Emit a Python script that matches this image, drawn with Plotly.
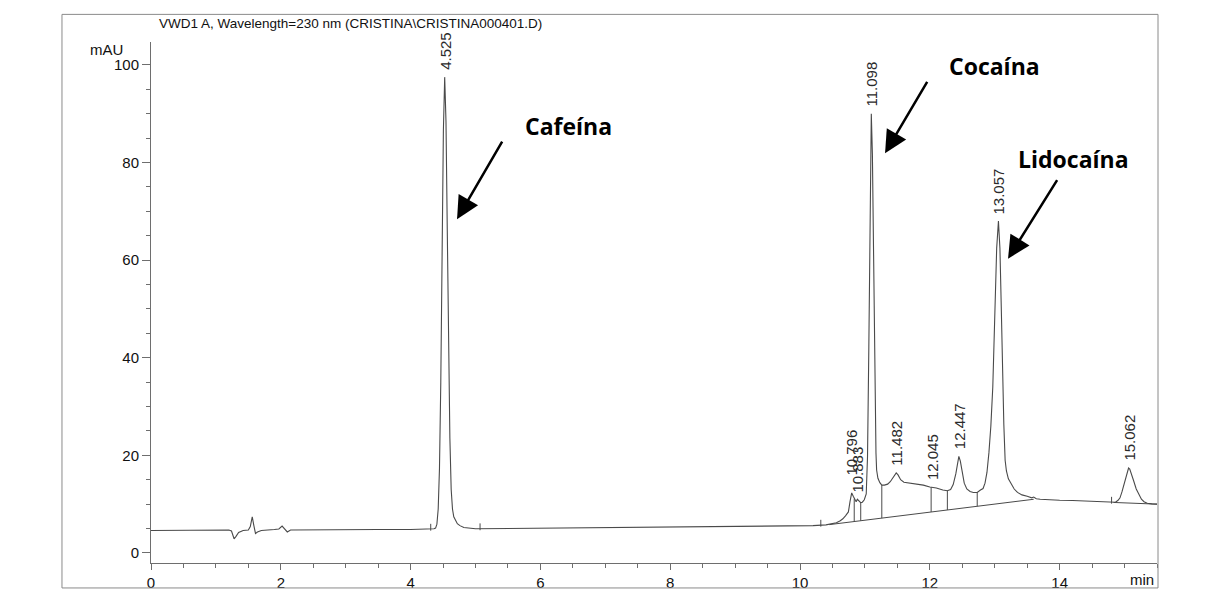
import numpy as np
import plotly.graph_objects as go

# ---------------- data ----------------
time_min = [
    0.00, 0.50, 1.00, 1.20, 1.24, 1.28, 1.31, 1.35, 1.42, 1.50, 1.53, 1.56, 1.585, 1.61, 1.64, 1.70,
    1.90, 1.97, 2.02, 2.06, 2.10, 2.15, 2.50, 3.00, 3.50, 4.00, 4.30, 4.36,
    4.385, 4.405, 4.425, 4.445, 4.465, 4.485, 4.505, 4.525, 4.545, 4.565, 4.585, 4.605, 4.625,
    4.645, 4.665, 4.69, 4.72, 4.76, 4.82, 5.00, 5.50, 6.00, 7.00, 8.00, 9.00, 9.80, 10.20,
    10.40, 10.50, 10.56, 10.62, 10.66, 10.70, 10.745, 10.77, 10.796, 10.82, 10.85, 10.865,
    10.883, 10.90, 10.935, 10.96, 10.99, 11.02, 11.04, 11.06, 11.08, 11.098, 11.115, 11.13,
    11.15, 11.16, 11.17, 11.18, 11.20, 11.23, 11.26, 11.30, 11.35, 11.39, 11.43, 11.46, 11.482,
    11.51, 11.55, 11.60, 11.70, 11.80, 11.90, 12.00, 12.045, 12.10, 12.20, 12.27, 12.32, 12.36,
    12.40, 12.425, 12.447, 12.47, 12.50, 12.53, 12.57, 12.62, 12.67, 12.73, 12.78, 12.82, 12.85,
    12.88, 12.91, 12.94, 12.97, 13.00, 13.03, 13.057, 13.08, 13.10, 13.12, 13.14, 13.16, 13.18,
    13.21, 13.25, 13.30, 13.35, 13.42, 13.50, 13.57, 13.60, 13.64, 13.70, 13.80, 14.00, 14.20,
    14.40, 14.60, 14.80, 14.86, 14.90, 14.93, 14.96, 14.99, 15.02, 15.045, 15.062, 15.08, 15.11,
    15.14, 15.18, 15.22, 15.26, 15.30, 15.35, 15.42, 15.50,
]
signal_mau = [
    4.6, 4.6, 4.65, 4.7, 4.5, 2.9, 3.4, 4.2, 4.6, 4.7, 5.4, 7.4, 5.6, 4.0, 4.3, 4.6,
    4.8, 4.9, 5.5, 5.0, 4.3, 4.7, 4.75, 4.75, 4.8, 4.8, 4.85, 4.95,
    5.1, 5.9, 9.0, 17.4, 35.0, 61.1, 86.6, 97.5, 88.4, 66.1, 41.5, 23.5, 13.0,
    9.0, 7.4, 6.6, 6.0, 5.6, 5.2, 4.95, 5.0, 5.05, 5.15, 5.3, 5.4, 5.5, 5.6,
    5.75, 6.0, 6.2, 6.6, 7.0, 7.6, 8.4, 10.5, 12.3, 11.6, 10.6, 10.5,
    11.0, 10.8, 10.3, 10.4, 10.9, 12.1, 19.8, 42.1, 75.1, 90.0, 81.7, 64.1,
    38.6, 28.5, 20.5, 17.0, 15.3, 14.4, 13.9, 13.9, 14.1, 14.6, 15.4, 16.1, 16.4,
    16.0, 15.0, 14.5, 14.3, 14.1, 13.9, 13.5, 13.45, 13.3, 12.9, 12.75, 13.0, 14.0,
    16.2, 18.6, 19.8, 18.8, 16.5, 14.3, 13.1, 12.6, 12.4, 12.4, 12.9, 13.2, 14.3,
    16.5, 20.5, 26.0, 34.0, 48.5, 62.5, 68.0, 62.4, 50.7, 37.5, 26.3, 19.0, 16.8,
    15.2, 14.2, 13.1, 12.4, 11.9, 11.6, 11.3, 11.45, 11.1, 11.0, 10.9, 10.8, 10.75,
    10.6, 10.45, 10.4, 10.4, 10.8, 11.3, 12.5, 14.0, 15.8, 17.0, 17.4, 17.2, 16.2,
    14.8, 13.1, 11.9, 11.0, 10.5, 10.2, 10.05, 10.0,
]

# integration baselines drawn by the data system
baseline1_t = [10.45, 13.60]
baseline1_y = [5.8, 11.0]
baseline2_t = [14.83, 15.50]
baseline2_y = [10.35, 10.0]

# peak-boundary drop lines and event marks
drop_times = [10.835, 10.935, 11.26, 12.02, 12.27, 12.73]
event_times = [4.31, 5.07, 10.32, 14.80]

# retention-time labels
peak_times = [4.525, 10.796, 10.883, 11.098, 11.482, 12.045, 12.447, 13.057, 15.062]

x_ticks = [0, 2, 4, 6, 8, 10, 12, 14]
y_ticks = [0, 20, 40, 60, 80, 100]

compounds = ["Cafeína", "Cocaína", "Lidocaína"]
compound_peaks = [4.525, 11.098, 13.057]

# ---------------- figure ----------------
GRAY = "#4a4a4a"
AXIS = "#6e6e6e"
FONT = "Liberation Sans, Arial, sans-serif"

fig = go.Figure()

fig.add_trace(go.Scatter(x=time_min, y=signal_mau, mode="lines",
                         line=dict(color=GRAY, width=1.1), hoverinfo="skip"))

for bt, by in ((baseline1_t, baseline1_y), (baseline2_t, baseline2_y)):
    fig.add_trace(go.Scatter(x=bt, y=by, mode="lines",
                             line=dict(color=GRAY, width=1), hoverinfo="skip"))

# drop lines from integration baseline up to the signal
dx, dy = [], []
for t in drop_times:
    dx += [t, t, None]
    dy += [float(np.interp(t, baseline1_t, baseline1_y)),
           float(np.interp(t, time_min, signal_mau)), None]
# event marks: short ticks on the signal
for t in event_times:
    s = float(np.interp(t, time_min, signal_mau))
    dx += [t, t, None]
    dy += [s - 0.3, s + 1.1, None]
fig.add_trace(go.Scatter(x=dx, y=dy, mode="lines",
                         line=dict(color=GRAY, width=1), hoverinfo="skip"))

annotations = []
label_shift = {10.796: 15}
for t in peak_times:
    annotations.append(dict(
        x=t, y=float(np.interp(t, time_min, signal_mau)), xref="x", yref="y",
        text=f"{t:.3f}", showarrow=False, textangle=-90,
        xanchor="center", yanchor="bottom", yshift=label_shift.get(t, 5),
        font=dict(family=FONT, size=15, color="#2a2a2a")))

# compound names and arrows
name_pos = {"Cafeína": (6.43, 87.4), "Cocaína": (12.99, 99.7), "Lidocaína": (14.22, 80.7)}
arrow_head = {"Cafeína": (4.715, 68.4, 46, -79),
              "Cocaína": (11.31, 81.9, 43, -73),
              "Lidocaína": (13.205, 60.3, 50, -80)}
for name in compounds:
    nx, ny = name_pos[name]
    annotations.append(dict(x=nx, y=ny, xref="x", yref="y", text=f"<b>{name}</b>",
                            showarrow=False, xanchor="center", yanchor="middle",
                            font=dict(family="Open Sans, sans-serif", size=23, color="black")))
    hx, hy, ax, ay = arrow_head[name]
    annotations.append(dict(x=hx, y=hy, xref="x", yref="y", text="", showarrow=True,
                            ax=ax, ay=ay, arrowhead=2, arrowsize=1.8, arrowwidth=2.5,
                            arrowcolor="black", standoff=0, startstandoff=0))

annotations.append(dict(x=0.006, y=1.036, xref="paper", yref="paper",
                        text="VWD1 A, Wavelength=230 nm (CRISTINA\\CRISTINA000401.D)",
                        showarrow=False, xanchor="left", yanchor="middle",
                        font=dict(family=FONT, size=13.5, color="#111111")))
annotations.append(dict(x=-0.0255, y=0.985, xref="paper", yref="paper", text="mAU",
                        showarrow=False, xanchor="right", yanchor="middle",
                        font=dict(family=FONT, size=15, color="#111111")))
annotations.append(dict(x=0.999, y=-0.031, xref="paper", yref="paper", text="min",
                        showarrow=False, xanchor="right", yanchor="middle",
                        font=dict(family=FONT, size=15, color="#111111")))

fig.update_layout(
    width=1205, height=603, autosize=False,
    margin=dict(l=151, r=48, t=42, b=32, pad=0),
    paper_bgcolor="white", plot_bgcolor="white",
    showlegend=False,
    annotations=annotations,
    shapes=[dict(type="rect", xref="paper", yref="paper",
                 x0=-0.0885, x1=1.001, y0=-0.0479, y1=1.053,
                 line=dict(color="#8a8a8a", width=1), fillcolor="rgba(0,0,0,0)")],
    xaxis=dict(range=[0, 15.5], tickvals=x_ticks, ticks="outside", ticklen=6,
               tickcolor=AXIS, showline=True, linecolor=AXIS, linewidth=1,
               showgrid=False, zeroline=False,
               tickfont=dict(family=FONT, size=15, color="#111111"),
               minor=dict(dtick=0.5, ticks="outside", ticklen=4, tickcolor=AXIS, showgrid=False)),
    yaxis=dict(range=[-2.06, 104.7], tickvals=y_ticks, ticks="outside", ticklen=8,
               tickcolor=AXIS, showline=True, linecolor=AXIS, linewidth=1,
               showgrid=False, zeroline=False,
               tickfont=dict(family=FONT, size=15, color="#111111"),
               minor=dict(dtick=5, ticks="outside", ticklen=4, tickcolor=AXIS, showgrid=False)),
)

fig.write_html("out.html")
